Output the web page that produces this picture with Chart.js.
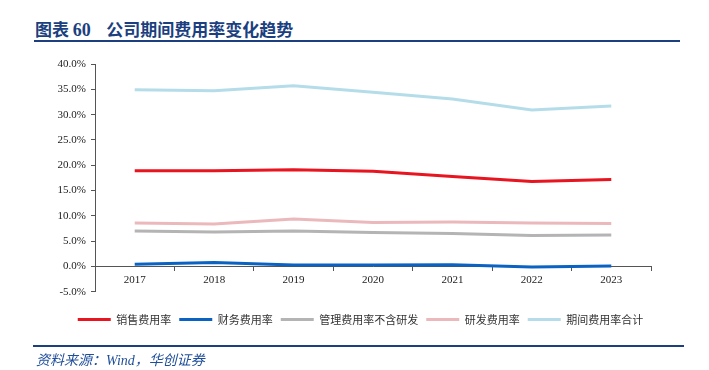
<!DOCTYPE html>
<html>
<head>
<meta charset="utf-8">
<script src="https://cdn.jsdelivr.net/npm/chart.js@4"></script>
<style>
  html, body { margin: 0; padding: 0; background: #fff; }
  body { width: 709px; height: 370px; position: relative; overflow: hidden; }
  #title {
    position: absolute; left: 35px; top: 18px;
    font: bold 17px "Noto Sans CJK SC", sans-serif; color: #1b3f7f;
    white-space: pre; line-height: 22px;
  }
  #title .num { font-family: "Liberation Serif", serif; font-size: 18px; }
  #topRule { position: absolute; left: 34px; top: 40px; width: 646px; height: 2px; background: #1b3f7f; }
  #bottomRule { position: absolute; left: 33px; top: 345px; width: 651px; height: 2px; background: #1b3f7f; }
  #source {
    position: absolute; left: 36px; top: 349px;
    font: italic 14px "Noto Sans CJK SC", "Liberation Serif", serif; color: #1f4e9a;
    line-height: 20px;
  }
  #wrap { position: absolute; left: 0; top: 0; width: 709px; height: 370px; }
</style>
</head>
<body>
<div id="title">图表 <span class="num">60</span>    公司期间费用率变化趋势</div>
<div id="topRule"></div>
<div id="wrap"><canvas id="chart"></canvas></div>
<div id="bottomRule"></div>
<div id="source">资料来源：<span style="font-family:'Liberation Serif',serif">Wind</span>，华创证券</div>

<script>
const years = ['2017', '2018', '2019', '2020', '2021', '2022', '2023'];

const xiaoshou = [18.9, 18.9, 19.1, 18.8, 17.8, 16.8, 17.2];
const caiwu = [0.45, 0.8, 0.3, 0.3, 0.35, -0.1, 0.1];
const guanli = [7.0, 6.8, 7.0, 6.7, 6.5, 6.1, 6.2];
const yanfa = [8.6, 8.4, 9.4, 8.7, 8.8, 8.6, 8.5];
const heji = [34.9, 34.7, 35.7, 34.4, 33.1, 30.9, 31.7];

const names = ['销售费用率', '财务费用率', '管理费用率不含研发', '研发费用率', '期间费用率合计'];
const colors = ['#e8141f', '#0a62c2', '#b4b4b4', '#ebb9bc', '#b5dde9'];

const yMin = -5, yMax = 40, yStep = 5;

const series = [xiaoshou, caiwu, guanli, yanfa, heji];

// nudge the legend to the right, the source centres it under the whole page
const legendShift = {
  id: 'legendShift',
  afterLayout(chart) {
    const lg = chart.legend;
    if (!lg) return;
    lg.left += 35;
    lg.right += 35;
  }
};

new Chart(document.getElementById('chart'), {
  type: 'line',
  data: {
    labels: years,
    datasets: series.map((vals, i) => ({
      label: names[i],
      data: vals,
      borderColor: colors[i],
      backgroundColor: colors[i],
      borderWidth: 3,
      pointRadius: 0,
      tension: 0,
      fill: false
    }))
  },
  plugins: [legendShift],
  options: {
    responsive: true,
    maintainAspectRatio: false,
    animation: false,
    layout: { padding: { left: 0, right: 58, top: 64, bottom: 35 } },
    plugins: {
      tooltip: { enabled: false },
      legend: {
        position: 'bottom',
        title: { display: true, text: '', font: { size: 1 }, padding: { top: 13, bottom: 0 } },
        labels: {
          boxWidth: 33,
          boxHeight: 3,
          padding: 8,
          color: '#333',
          font: { family: '"Noto Sans CJK SC", sans-serif', size: 11 },
          generateLabels(chart) {
            return Chart.defaults.plugins.legend.labels.generateLabels(chart).map(l => {
              l.lineWidth = 0;
              l.fillStyle = l.strokeStyle;
              return l;
            });
          }
        }
      }
    },
    scales: {
      x: {
        position: { y: 0 },
        offset: true,
        grid: { display: true, offset: true, drawOnChartArea: false, drawTicks: true, tickLength: 4, color: '#555' },
        border: { display: true, color: '#555', width: 1 },
        ticks: {
          color: '#222',
          padding: 3,
          maxRotation: 0,
          font: { family: '"Liberation Serif", serif', size: 11 }
        }
      },
      y: {
        min: yMin,
        max: yMax,
        afterFit(s) { s.width = 95; },
        grid: { display: true, drawOnChartArea: false, drawTicks: true, tickLength: 4, color: '#555' },
        border: { display: true, color: '#555', width: 1 },
        ticks: {
          stepSize: yStep,
          padding: 5,
          color: '#222',
          font: { family: '"Liberation Serif", serif', size: 11 },
          callback: v => v.toFixed(1) + '%'
        }
      }
    }
  }
});
</script>
</body>
</html>
